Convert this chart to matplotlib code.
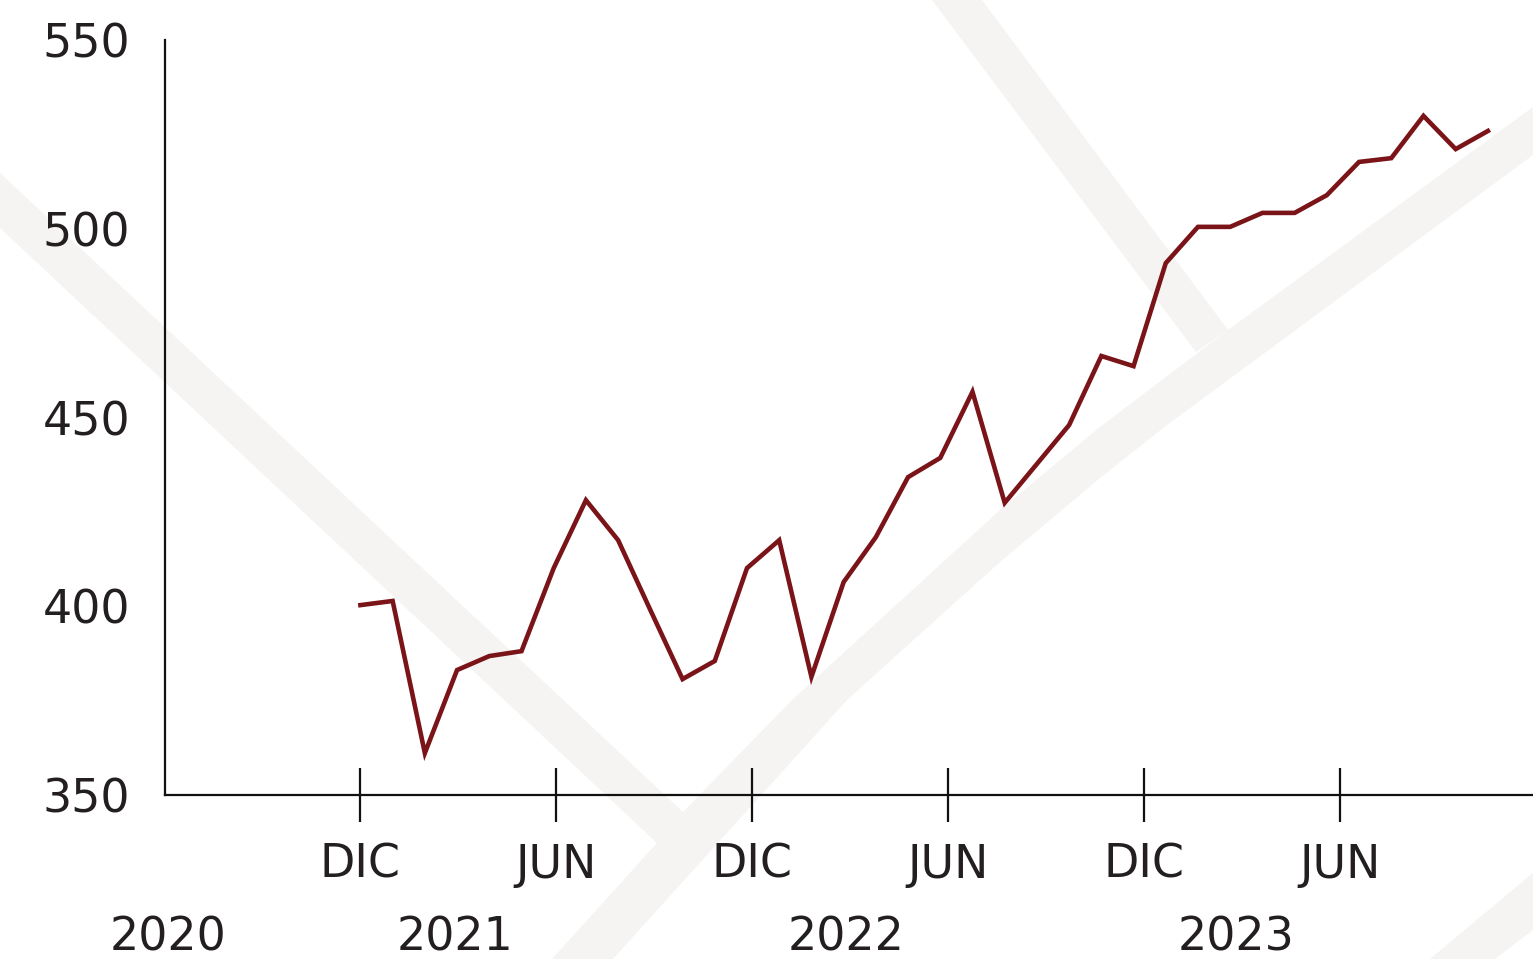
import numpy as np
import pandas as pd
import matplotlib
matplotlib.use('Agg')
import matplotlib.pyplot as plt
import matplotlib.dates as mdates
from matplotlib.patches import Polygon

plt.rcParams['font.family'] = ['DejaVu Sans']

# monthly index readings, Dec 2020 -> Oct 2023
dates = pd.date_range('2020-12-01', periods=36, freq='30D')
values = [400.3, 401.4, 361.1, 383.1, 386.8, 388.1, 410.1, 428.1, 417.5, 399.0,
          380.7, 385.5, 410.1, 417.5, 381.3, 406.4, 418.3, 434.2, 439.3, 456.8,
          427.4, 437.7, 448.0, 466.3, 463.6, 490.9, 500.5, 500.5, 504.2, 504.2,
          508.9, 517.7, 518.7, 529.9, 521.1, 525.9]

month_ticks = pd.to_datetime(['2020-12-01', '2021-06-01', '2021-12-01',
                              '2022-06-01', '2022-12-01', '2023-06-01'])
month_labels = ['DIC', 'JUN', 'DIC', 'JUN', 'DIC', 'JUN']
year_pos = pd.to_datetime(['2020-06-05', '2021-02-27', '2022-02-26', '2023-02-24'])
year_labels = ['2020', '2021', '2022', '2023']
y_ticks = [350, 400, 450, 500, 550]

LINE = '#7a1418'
INK = '#231f20'
BAND = '#f5f4f2'
FS = 33

W, H = 1533, 959
fig = plt.figure(figsize=(W / 100, H / 100), dpi=100)

# faint diagonal strokes in the background (pixel space)
bg = fig.add_axes([0, 0, 1, 1], zorder=0)
bg.set_xlim(0, W)
bg.set_ylim(H, 0)
bg.axis('off')
y_shape = [(0, 173), (683, 812), (792, 700), (1000, 510), (1100, 427), (1228, 330),
           (1533, 107), (1533, 155), (1167, 425), (1100, 478), (1000, 562),
           (847, 700), (613, 959), (552, 959), (657, 843), (0, 228)]
upper = [(932, 0), (982, 0), (1228, 330), (1196, 352)]
corner = [(1430, 959), (1533, 873), (1533, 930), (1495, 959)]
for pts in (y_shape, upper, corner):
    bg.add_patch(Polygon(pts, closed=True, facecolor=BAND, edgecolor='none'))

ax = fig.add_axes([165 / W, 1 - 795 / H, 1 - 165 / W, (795 - 40) / H], zorder=1)
ax.patch.set_alpha(0)

ax.plot(dates, values, color=LINE, lw=3.3, solid_joinstyle='miter', zorder=3)

ax.set_ylim(350, 550)
ax.set_xlim(pd.Timestamp('2020-06-02'), pd.Timestamp('2023-11-28'))

for side in ('top', 'right'):
    ax.spines[side].set_visible(False)
for side in ('left', 'bottom'):
    ax.spines[side].set_color('#111111')
    ax.spines[side].set_linewidth(1.6)

ax.set_yticks(y_ticks)
ax.set_yticklabels([str(v) for v in y_ticks])
ax.tick_params(axis='y', length=0, pad=25, labelsize=FS, labelcolor=INK)

ax.set_xticks(month_ticks)
ax.set_xticklabels(month_labels)
ax.tick_params(axis='x', direction='inout', length=39, width=1.6, color='#111111',
               pad=15, labelsize=FS, labelcolor=INK)

for d, lab in zip(year_pos, year_labels):
    ax.annotate(lab, xy=(mdates.date2num(d), 0), xycoords=('data', 'axes fraction'),
                xytext=(0, -87), textcoords='offset points',
                ha='center', va='top', fontsize=FS, color=INK, annotation_clip=False)

fig.savefig('out.png', dpi=100, facecolor='white')
